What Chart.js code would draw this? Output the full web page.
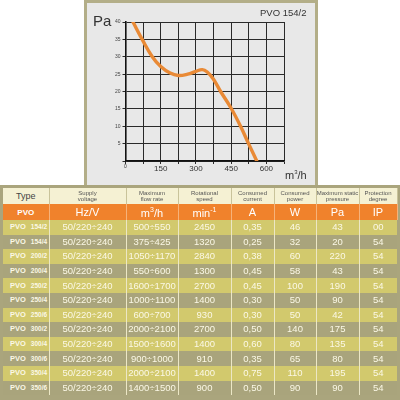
<!DOCTYPE html>
<html><head><meta charset="utf-8">
<script src="https://cdn.jsdelivr.net/npm/chart.js@4/dist/chart.umd.min.js"></script>
<style>
html,body{margin:0;padding:0;width:400px;height:400px;background:#fff;overflow:hidden;font-family:"Liberation Sans",Arial,sans-serif;}
#panel{position:absolute;left:84px;top:0;width:228px;height:185px;border:3px solid #b3ae88;border-bottom:none;background:#e8e8e8;}
#cv{position:absolute;left:87px;top:3px;}
.lbl{position:absolute;color:#333;white-space:nowrap;}
#tbl{position:absolute;left:0;top:185px;width:394px;height:212px;padding:3px 3px 0 3px;background:#aaa57d;}
table{border-collapse:collapse;table-layout:fixed;width:394px;}
td{padding:0;text-align:center;overflow:hidden;white-space:nowrap;border-right:1px solid #ece7c6;}
td:last-child{border-right:none;}
tr.h td{background:#f5f1d3;color:#555;font-size:6px;line-height:6.5px;height:16px;border-right:1px solid #c9c39a;}
tr.h td.t{font-size:9px;color:#444;}
tr.u td{background:#f0822c;color:#fff;font-size:11px;height:16px;border-right:1px solid #f6b27a;}
tr.u td.t{font-size:8px;font-weight:bold;}
tr.d td{color:#fbf8e6;font-size:9.5px;height:14.6px;line-height:14px;}
tr.d td.t{font-weight:bold;font-size:6.5px;text-align:left;padding-left:7px;}
tr.d td.t b{font-size:7.5px;margin-right:5px;}
tr.l td{background:#d2c96d;}
tr.k td{background:#a9a47c;}
</style></head><body>
<div id="panel"></div>
<canvas id="cv" width="228" height="182"></canvas>
<div class="lbl" style="left:93px;top:12px;font-size:15px;">Pa</div>
<div class="lbl" style="left:260px;top:7px;font-size:9.5px;">PVO 154/2</div>
<div class="lbl" style="left:285px;top:169px;font-size:11px;">m<sup style="font-size:6px;vertical-align:5px;">3</sup>/h</div>
<div id="tbl"></div>
<script>
// chart data
const flowX = [32, 71, 114, 150, 190, 225, 265, 300, 327, 348, 374, 405, 448, 490, 524, 559];
const pressureY = [40, 35, 30, 27.2, 25.3, 24.6, 25.0, 25.8, 26.3, 25.6, 23.6, 20, 15.4, 10, 5, 0];
const xTickStep = 75;
const xLabelStep = 150;

// table data
const headers = ['Type','Supply<br>voltage','Maximum<br>flow rate','Rotational<br>speed','Consumed<br>current','Consumed<br>power','Maximum static<br>pressure','Protection<br>degree'];
const units = ['PVO','Hz/V','m<sup style="font-size:7px">3</sup>/h','min<sup style="font-size:7px">-1</sup>','A','W','Pa','IP'];
const types = ['154/2','154/4','200/2','200/4','250/2','250/4','250/6','300/2','300/4','300/6','350/4','350/6'];
const voltage = ['50/220÷240','50/220÷240','50/220÷240','50/220÷240','50/220÷240','50/220÷240','50/220÷240','50/220÷240','50/220÷240','50/220÷240','50/220÷240','50/220÷240'];
const flowRate = ['500÷550','375÷425','1050÷1170','550÷600','1600÷1700','1000÷1100','600÷700','2000÷2100','1500÷1600','900÷1000','2000÷2100','1400÷1500'];
const speed = ['2450','1320','2840','1300','2700','1400','930','2700','1400','910','1400','900'];
const current = ['0,35','0,25','0,38','0,45','0,45','0,30','0,30','0,50','0,60','0,35','0,75','0,50'];
const power = ['46','32','60','58','100','50','50','140','80','65','110','90'];
const staticP = ['43','20','220','43','190','90','42','175','135','80','195','90'];
const ipDeg = ['00','54','54','54','54','54','54','54','54','54','54','54'];

const widths = [46,77,52,53,43,42,43,38];
let html = '<table><colgroup>' + widths.map(w=>`<col style="width:${w}px">`).join('') + '</colgroup>';
html += '<tr class="h">' + headers.map((h,i)=>`<td${i===0?' class="t"':''}>${h}</td>`).join('') + '</tr>';
html += '<tr class="u">' + units.map((h,i)=>`<td${i===0?' class="t"':''}>${h}</td>`).join('') + '</tr>';
types.forEach((t,i)=>{
  html += `<tr class="d ${i%2===0?'l':'k'}"><td class="t"><b>PVO</b>${t}</td><td>${voltage[i]}</td><td>${flowRate[i]}</td><td>${speed[i]}</td><td>${current[i]}</td><td>${power[i]}</td><td>${staticP[i]}</td><td>${ipDeg[i]}</td></tr>`;
});
html += '</table>';
document.getElementById('tbl').innerHTML = html;

new Chart(document.getElementById('cv'), {
  type: 'scatter',
  data: { datasets: [{
    data: flowX.map((x,i)=>({x, y: pressureY[i]})),
    showLine: true, borderColor: '#e98a36', borderWidth: 3.4, pointRadius: 0,
    tension: 0.4, fill: false, borderCapStyle: 'round', borderJoinStyle: 'round'
  }]},
  options: {
    responsive: false, animation: false,
    layout: { padding: { left: 0, top: 19, right: 31, bottom: 0 } },
    plugins: { legend: { display: false }, tooltip: { enabled: false } },
    scales: {
      x: {
        type: 'linear', min: 0, max: 675,
        afterFit: s => { s.height = 24; },
        grid: { color: '#2a2a2a', lineWidth: 1, tickLength: 3, tickColor: '#2a2a2a' },
        border: { color: '#111', width: 1.6 },
        ticks: { stepSize: xTickStep, padding: 0, color: '#333', autoSkip: false, maxRotation: 0,
          font: ctx => ({ size: ctx.tick && ctx.tick.value === 0 ? 5 : 8, family: 'Liberation Sans' }),
          callback: v => v % xLabelStep === 0 ? String(v) : '' }
      },
      y: {
        min: 0, max: 40,
        afterFit: s => { s.width = 38.5; },
        grid: { color: '#2a2a2a', lineWidth: 1, tickLength: 3, tickColor: '#2a2a2a' },
        border: { color: '#111', width: 1.6 },
        ticks: { stepSize: 5, padding: 2, color: '#444', font: { size: 5, family: 'Liberation Sans' },
          callback: v => v === 0 ? '' : String(v) }
      }
    }
  }
});
</script>
</body></html>
